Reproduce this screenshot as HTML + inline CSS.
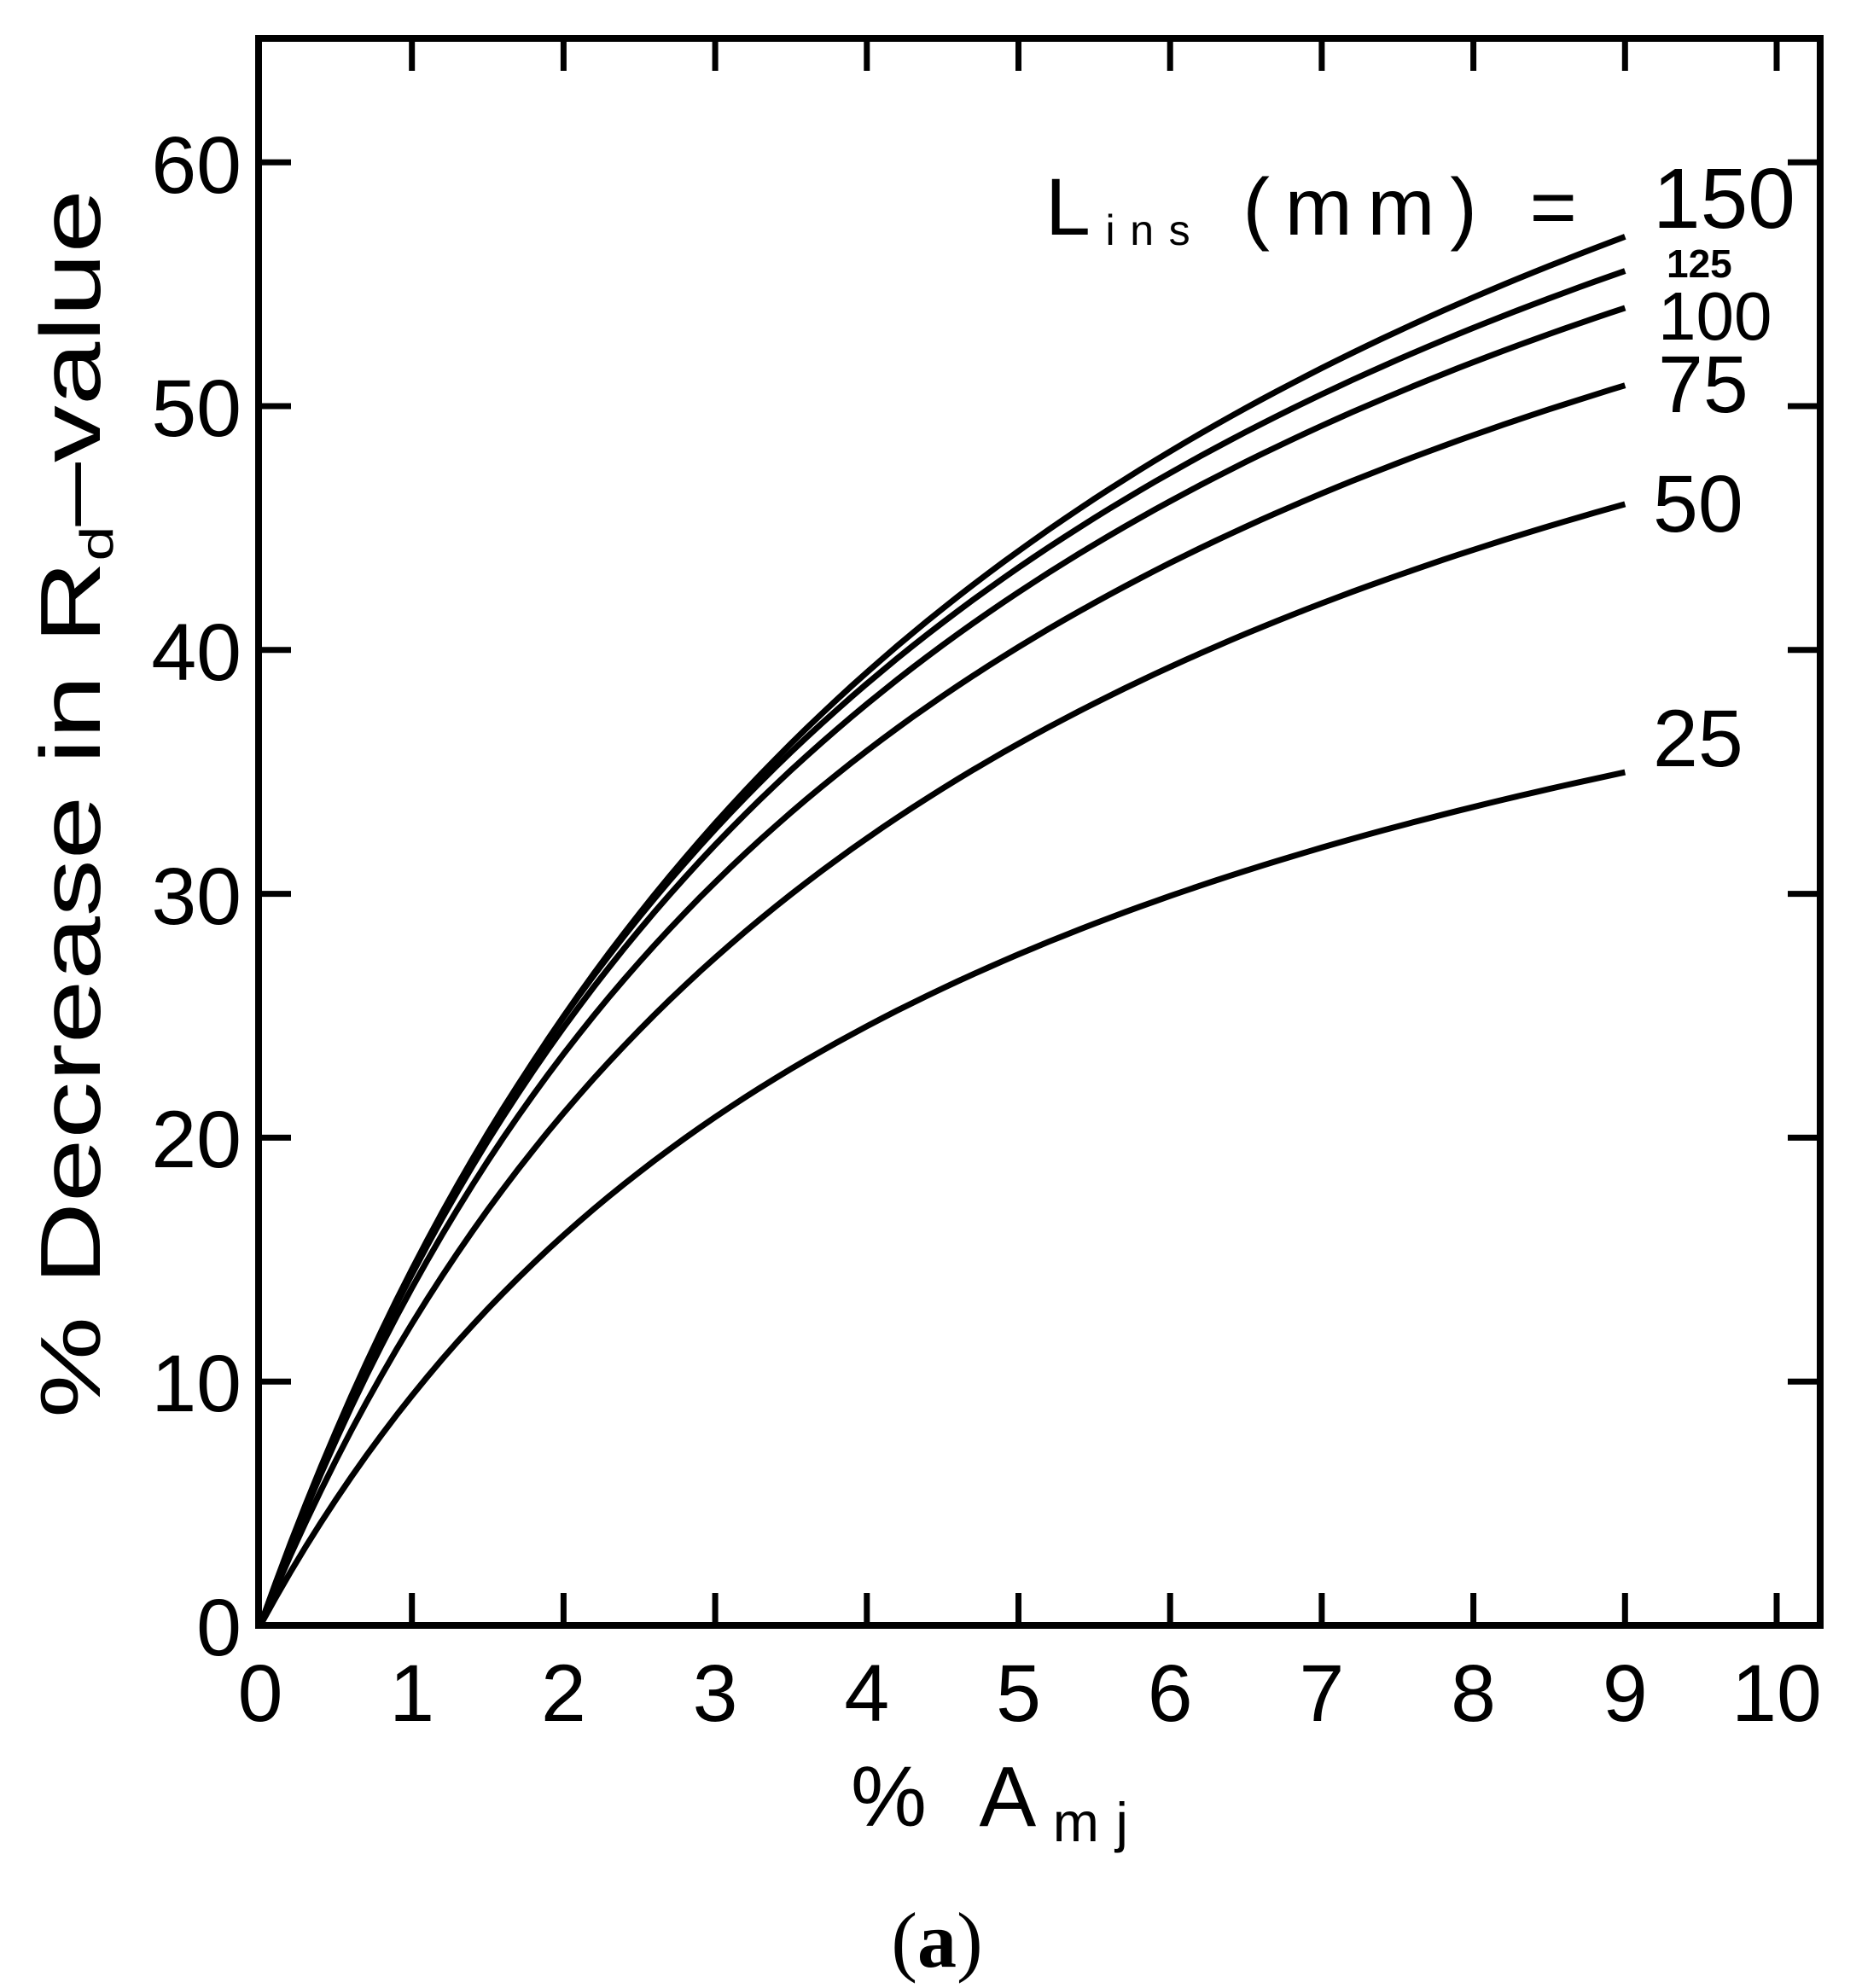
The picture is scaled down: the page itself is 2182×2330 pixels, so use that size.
<!DOCTYPE html>
<html><head><meta charset="utf-8"><style>html,body{margin:0;padding:0;background:#fff}svg{display:block}</style></head>
<body>
<svg id="s" width="2182" height="2330" viewBox="0 0 2182 2330" xmlns="http://www.w3.org/2000/svg">
<rect x="0" y="0" width="2182" height="2330" fill="#fff"/>
<rect x="303" y="45" width="1830" height="1860" fill="none" stroke="#000" stroke-width="8"/>
<g id="ticks" stroke="#000" stroke-width="7"></g>
<g id="curves" fill="none" stroke="#000" stroke-width="7"></g>
<g font-family="Liberation Sans, sans-serif" font-size="95" fill="#000">
<g text-anchor="end">
<text x="283" y="1940">0</text>
<text x="283" y="1654">10</text>
<text x="283" y="1368">20</text>
<text x="283" y="1083">30</text>
<text x="283" y="797">40</text>
<text x="283" y="511">50</text>
<text x="283" y="226">60</text>
</g>
<g text-anchor="middle" id="xl"></g>
<text x="82" y="942" transform="rotate(-90 82 942)" text-anchor="middle" font-size="100" textLength="1440" lengthAdjust="spacingAndGlyphs" dy="35">% Decrease in R<tspan font-size="55" dy="15">d</tspan><tspan dy="-15">–value</tspan></text>
<text x="997" y="2140" font-size="100" textLength="325" lengthAdjust="spacing">%  A<tspan font-size="65" dy="18">mj</tspan></text>
<text x="1225" y="275" font-size="95" textLength="623" lengthAdjust="spacing">L<tspan font-size="50" dy="12">ins</tspan><tspan dy="-12">  (mm)  =</tspan></text>
<text x="1937" y="267" font-size="100">150</text>
<text x="1953" y="325" font-size="46" font-weight="bold">125</text>
<text x="1943" y="398" font-size="80">100</text>
<text x="1943" y="483" font-size="95">75</text>
<text x="1937" y="623" font-size="95">50</text>
<text x="1937" y="898" font-size="95">25</text>
</g>
<text x="1098" y="2305" text-anchor="middle" font-family="Liberation Serif, serif" font-size="92">(<tspan font-weight="bold">a</tspan>)</text>
</svg>
<script>
var NS="http://www.w3.org/2000/svg";
var x0=305,sx=177.7,y0=1905,sy=28.58;
function X(v){return x0+v*sx}function Y(v){return y0-v*sy}
var t=document.getElementById('ticks'),xl=document.getElementById('xl');
function line(a,b,c,d){var l=document.createElementNS(NS,'line');l.setAttribute('x1',a);l.setAttribute('y1',b);l.setAttribute('x2',c);l.setAttribute('y2',d);t.appendChild(l);}
for(var i=1;i<=10;i++){line(X(i),1905,X(i),1867);line(X(i),45,X(i),83);}
for(var i=0;i<=10;i++){var tx=document.createElementNS(NS,'text');tx.setAttribute('x',X(i));tx.setAttribute('y',2017);tx.textContent=i;xl.appendChild(tx);}
for(var j=1;j<=6;j++){line(303,Y(j*10),341,Y(j*10));line(2133,Y(j*10),2095,Y(j*10));}
var P=[[17.3,5.19],[17.6,4.86],[17.45,4.72],[16.9,4.52],[15.04,4.63],[11.46,4.62]];
var g=document.getElementById('curves');
P.forEach(function(p){var d='';for(var k=0;k<=90;k++){var x=k/10;var y=p[0]*x/(1+x/p[1]);d+=(k?'L':'M')+X(x).toFixed(1)+' '+Y(y).toFixed(1);}
var pa=document.createElementNS(NS,'path');pa.setAttribute('d',d);g.appendChild(pa);});
</script>
</body></html>
